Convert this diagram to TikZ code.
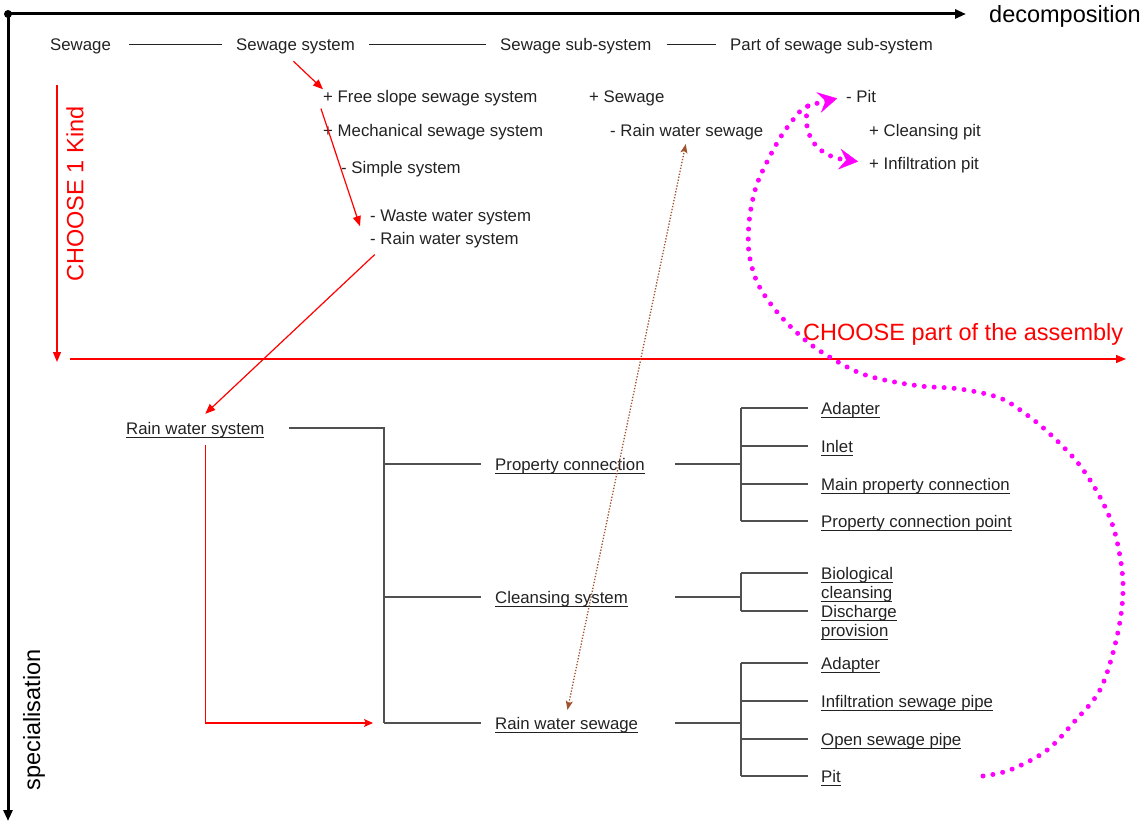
\documentclass[tikz,border=0pt]{standalone}
\usepackage{fontspec}
\setmainfont{Liberation Sans}
\usetikzlibrary{arrows.meta,calc}
\definecolor{ink}{HTML}{222222}
\definecolor{treegray}{HTML}{505050}
\definecolor{rust}{HTML}{A0522D}
\definecolor{pitpink}{RGB}{255,0,255}
% underline at a fixed depth below the baseline
\newcommand\udl[1]{\setbox0=\hbox{#1}\rlap{\rule[-4.2pt]{\wd0}{1.1pt}}\box0}
\begin{document}
\begin{tikzpicture}[x=1pt,y=-1pt,
  txt/.style={font=\fontsize{16.8}{19}\selectfont, text=ink, inner sep=0pt,
    text height=15pt, text depth=3pt, anchor=west},
  big/.style={font=\fontsize{23.5}{28}\selectfont, inner sep=0pt},
  axis/.style={line width=3pt, black, -{Triangle[length=11pt,width=9pt]}},
  redarr/.style={red, line width=1.2pt, -{Triangle[length=10pt,width=8pt]}},
  conn/.style={ink, line width=1.1pt},
  tree/.style={draw=treegray, line width=1.4pt},
  linkarr/.style={rust, line width=1.3pt, dash pattern=on 1.3pt off 1.7pt,
    {Stealth[length=9pt,width=7pt,inset=2pt]}-{Stealth[length=9pt,width=7pt,inset=2pt]}},
  mag/.style={draw=pitpink, line width=5pt, line cap=round, dash pattern=on 0pt off 10pt,
    -{Stealth[length=19pt,width=21pt,inset=7pt,line width=0.5pt]}}]
\useasboundingbox (0,0) rectangle (1145,824);

% axes
\coordinate (O) at (8,14);
\coordinate (xend) at (966,14);
\coordinate (yend) at (8,821);
\draw[axis] (O) -- (xend);
\draw[axis] (O) -- (yend);
\fill (O) circle (4pt);
\node[big, anchor=base west] (dec) at (989,23) {decomposition};
\node[big, rotate=90] (spec) at (34,720) {specialisation};

% choice arrows
\coordinate (k0) at (57,85);
\coordinate (k1) at (57,362);
\draw[redarr] (k0) -- (k1);
\node[big, text=red, rotate=90] (kind) at (75,194) {CHOOSE 1 Kind};
\coordinate (h0) at (70,359);
\coordinate (h1) at (1126,359);
\draw[redarr] (h0) -- (h1);
\node[big, text=red, anchor=base west] (assy) at (803,340) {CHOOSE part of the assembly};

% decomposition levels
\node[txt] (sew) at (50,44.5) {Sewage};
\node[txt] (sewsys) at (236,44.5) {Sewage system};
\node[txt] (subsys) at (500,44.5) {Sewage sub-system};
\node[txt] (part) at (730,44.5) {Part of sewage sub-system};
\draw[conn, shorten <=18pt, shorten >=14pt] (sew.east) -- (sewsys.west);
\draw[conn, shorten <=14pt, shorten >=14pt] (sewsys.east) -- (subsys.west);
\draw[conn, shorten <=15pt, shorten >=14pt] (subsys.east) -- (part.west);

% kinds
\node[txt] (free) at (323,96.5) {+ Free slope sewage system};
\node[txt] (mech) at (323,130) {+ Mechanical sewage system};
\node[txt] (simple) at (341,167.5) {- Simple system};
\node[txt] (waste) at (370,215) {- Waste water system};
\node[txt] (rainsys) at (370,238.5) {- Rain water system};
\node[txt] (psew) at (589,96.5) {+ Sewage};
\node[txt] (rwsew) at (610,130) {- Rain water sewage};
\node[txt] (pit) at (846,96.5) {- Pit};
\node[txt] (cpit) at (869,130) {+ Cleansing pit};
\node[txt] (ipit) at (869,163) {+ Infiltration pit};

% assembly tree
\node[txt] (rws) at (126,428) {\udl{Rain water system}};
\node[txt] (pc) at (495,464) {\udl{Property connection}};
\node[txt] (cs) at (495,597) {\udl{Cleansing system}};
\node[txt] (rsw) at (495,723) {\udl{Rain water sewage}};
\node[txt] (a1) at (821,408) {\udl{Adapter}};
\node[txt] (a2) at (821,446) {\udl{Inlet}};
\node[txt] (a3) at (821,484) {\udl{Main property connection}};
\node[txt] (a4) at (821,521) {\udl{Property connection point}};
\node[txt] (b1) at (821,573) {\begin{tabular}[t]{@{}l@{}}\udl{Biological}\\\udl{cleansing}\end{tabular}};
\node[txt] (b2) at (821,611) {\begin{tabular}[t]{@{}l@{}}\udl{Discharge}\\\udl{provision}\end{tabular}};
\node[txt] (c1) at (821,663) {\udl{Adapter}};
\node[txt] (c2) at (821,701) {\udl{Infiltration sewage pipe}};
\node[txt] (c3) at (821,739) {\udl{Open sewage pipe}};
\node[txt] (c4) at (821,776) {\udl{Pit}};

\coordinate (colT) at (384,0);
\coordinate (colA) at (675,0);
\coordinate (colB) at (741,0);
\coordinate (colC) at (808,0);
\draw[tree] ([xshift=24pt]rws.east) -- (rws.east -| colT) -- (rsw.west -| colT);
\foreach \n in {pc,cs,rsw}{
  \draw[tree] (\n.west -| colT) -- ([xshift=-14pt]\n.west);
  \draw[tree] (\n.east -| colA) -- (\n.east -| colB);
}
\draw[tree] (a1.west -| colB) -- (a4.west -| colB);
\draw[tree] (b1.west -| colB) -- (b2.west -| colB);
\draw[tree] (c1.west -| colB) -- (c4.west -| colB);
\foreach \n in {a1,a2,a3,a4,b1,b2,c1,c2,c3,c4}
  \draw[tree] (\n.west -| colB) -- (\n.west -| colC);

% choice path
\draw[redarr, shorten <=11pt] ([xshift=-10pt]sewsys.south) -- ([yshift=-2pt]free.north west);
\draw[redarr, shorten <=3pt] ([xshift=-3pt]free.south west) -- ([xshift=-10pt,yshift=-2pt]waste.south west);
\draw[redarr, shorten <=10pt] ([xshift=12pt]rainsys.south west) -- ([xshift=10pt,yshift=5pt]rws.north);
\draw[redarr, -{Stealth[length=9pt,width=8pt,inset=2pt]}, shorten >=11pt]
  ([xshift=10pt,yshift=-8pt]rws.south) |- (rsw.west -| colT);

% link between the tree and the sub-system kind
\draw[linkarr, shorten <=4pt, shorten >=5pt] (rsw.north) -- (rwsew.south);

% pit link
\coordinate (m0) at (983,776);
\coordinate (fork) at (808,106);
\draw[mag, shorten >=9pt] plot[smooth, tension=0.55] coordinates {(m0) (1010,770) (1046,751) (1074,722) (1101,688) (1118,632) (1123,583) (1115,533) (1100,497) (1078,463) (1050,434) (1027,415) (1000,398) (960,389) (920,386) (880,379) (853,370) (817,349) (793,329) (773,307) (757,282) (749,253) (749,223) (754,194) (762,172) (780,138) (797,115) (fork) (pit.west)};
\draw[mag, shorten >=11pt] (fork) .. controls (803,125) and (808,155) .. (ipit.west);
\end{tikzpicture}
\end{document}
